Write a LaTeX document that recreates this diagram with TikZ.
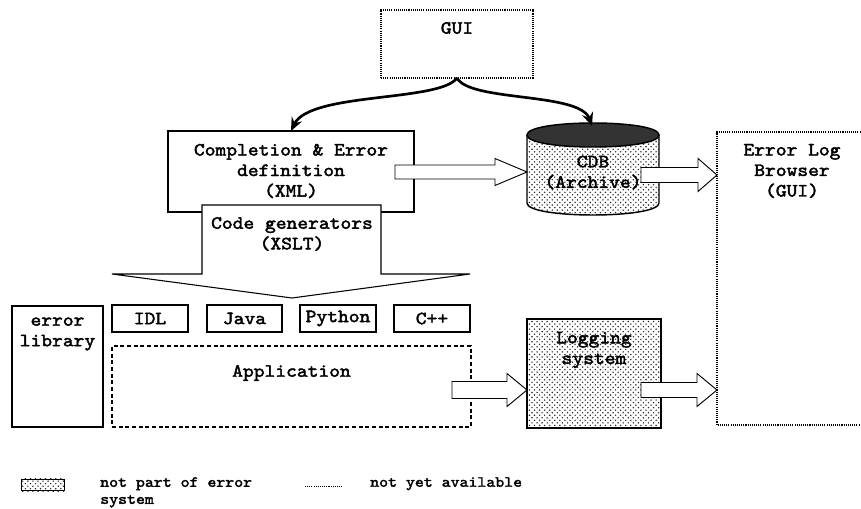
\documentclass[tikz,border=0pt]{standalone}
\usepackage{fontspec}
\newfontfamily\courfont{lmmono10-regular}[Extension=.otf, FakeStretch=1.1, FakeBold=2.2]
\usetikzlibrary{patterns,calc,arrows.meta}
\pgfdeclarepatternformonly{sparsedots}{\pgfqpoint{-1pt}{-1pt}}{\pgfqpoint{4.8pt}{4.8pt}}{\pgfqpoint{3.8pt}{3.8pt}}{%
  \pgfpathcircle{\pgfqpoint{0pt}{0pt}}{0.6pt}%
  \pgfpathcircle{\pgfqpoint{1.9pt}{1.9pt}}{0.6pt}%
  \pgfusepath{fill}}
\newcommand\blockarrow[5]{%
  \draw[blockarr] ($(#1)+(0,-#3)$) -- ($(#2)+(-#5,-#3)$) -- ($(#2)+(-#5,-#4)$) -- (#2)
   -- ($(#2)+(-#5,#4)$) -- ($(#2)+(-#5,#3)$) -- ($(#1)+(0,#3)$) -- cycle;}
\begin{document}
\begin{tikzpicture}[x=0.75pt,y=-0.75pt,
  txt/.style={font=\courfont\fontsize{14}{15.4}\selectfont, align=center, inner sep=0},
  legtxt/.style={font=\courfont\fontsize{11.6}{12.8}\selectfont, align=left, inner sep=0},
  box/.style={draw, line width=1.1pt, fill=white, inner sep=0, outer sep=0},
  ghost/.style={inner sep=0, outer sep=0},
  dotline/.style={line width=0.8pt, dash pattern=on 0.8pt off 0.8pt},
  dashline/.style={line width=0.8pt, dash pattern=on 3pt off 2pt},
  dotfill/.style={pattern=sparsedots, pattern color=black!85},
  blockarr/.style={draw, line width=0.7pt, fill=white, line join=miter},
  curvearr/.style={line width=2pt, -{Stealth[length=10pt,width=8.5pt,inset=3.5pt]}}
]
\useasboundingbox (0,0) rectangle (861,509);

% GUI
\node[ghost, draw, dotline, minimum width={152*0.75pt}, minimum height={68*0.75pt}] (gui) at (457,44) {};
\node[txt] (guit) at (457,28) {GUI};

% Completion & Error definition
\node[box, line width=1.6pt, minimum width={246*0.75pt}, minimum height={81*0.75pt}] (comp) at (291,171.5) {};
\node[txt] (compt) at (291,171) {Completion \& Error\\definition\\(XML)};

% Code generators (downward block arrow)
\draw[line width=0.8pt, fill=white, line join=miter] (202,205) -- (381,205) -- (381,274) -- (470,274)
  -- (292,298) coordinate (cgtip) -- (112,274) -- (202,274) -- cycle;
\node[txt] (cgt) at (292,234) {Code generators\\(XSLT)};

% CDB cylinder
\node[ghost, minimum width={132*0.75pt}, minimum height={92*0.75pt}] (cdb) at (593,172) {};
\draw[line width=1.1pt, fill=white] (527,135) -- (527,203) .. controls (527,219) and (659,219) .. (659,203) -- (659,135) -- cycle;
\fill[dotfill] (527,135) -- (527,203) .. controls (527,219) and (659,219) .. (659,203) -- (659,135) -- cycle;
\draw[line width=1.1pt, fill=black!80] (527,135) .. controls (527,119) and (659,119) .. (659,135)
   .. controls (659,151) and (527,151) .. (527,135) -- cycle;
\node[txt] (cdbt) at (593,172.5) {CDB\\(Archive)};

% Error Log Browser
\node[ghost, minimum width={150*0.75pt}, minimum height={293*0.75pt}] (elb) at (792,278.5) {};
\draw[dotline] (elb.north east) -| (elb.south west) -- (elb.south east);
\node[txt] (elbt) at (792,171) {Error Log\\Browser\\(GUI)};

% error library
\node[box, minimum width={91*0.75pt}, minimum height={121*0.75pt}] (lib) at (57.5,366.5) {};
\node[txt] (libt) at (57.5,334) {error\\library};

% language boxes
\node[box, minimum width={76*0.75pt}, minimum height={27*0.75pt}] (idl) at (150,318.5) {};
\node[txt] at (idl) {IDL};
\node[box, minimum width={75*0.75pt}, minimum height={27*0.75pt}] (java) at (244.5,318.5) {};
\node[txt] at (java) {Java};
\node[box, minimum width={76*0.75pt}, minimum height={27*0.75pt}] (py) at (338,318.5) {};
\node[txt] at (py) {Python};
\node[box, minimum width={76*0.75pt}, minimum height={27*0.75pt}] (cpp) at (432,318.5) {};
\node[txt] at (cpp) {C++};

% Application
\node[ghost, draw, dashline, minimum width={359*0.75pt}, minimum height={81*0.75pt}] (app) at (291.5,386.5) {};
\node[txt] (appt) at (291.5,373) {Application};

% Logging system
\node[box, minimum width={134*0.75pt}, minimum height={109*0.75pt}] (log) at (594,373.5) {};
\fill[dotfill] (log.south west) rectangle (log.north east);
\draw[line width=1.1pt] (log.south west) rectangle (log.north east);
\node[txt] (logt) at (594,350) {Logging\\system};

% curved arrows from GUI
\draw[curvearr] (gui.south) .. controls (440,102) and (310,92) .. (comp.north);
\draw[curvearr] (gui.south) .. controls (470,102) and (580,92) .. ($(cdb.north)+(-1,0)$);

% block arrows
\coordinate (a1s) at ($(comp.east)+(-19,0.5)$);
\coordinate (a1t) at (cdb.west |- a1s);
\blockarrow{a1s}{a1t}{7}{13.5}{32}
\coordinate (a2s) at ($(cdb.east)+(-18,3)$);
\coordinate (a2t) at (elb.west |- a2s);
\blockarrow{a2s}{a2t}{7.5}{16.5}{19}
\coordinate (a3s) at ($(app.east)+(-19,3.5)$);
\coordinate (a3t) at (log.west |- a3s);
\blockarrow{a3s}{a3t}{8.5}{16.5}{20}
\coordinate (a4s) at ($(log.east)+(-20,16.5)$);
\coordinate (a4t) at (elb.west |- a4s);
\blockarrow{a4s}{a4t}{7.5}{16.5}{20}

% legend
\node[draw, line width=0.8pt, fill=white, inner sep=0, minimum width={43*0.75pt}, minimum height={11*0.75pt}] (legpat) at (43,485) {};
\fill[dotfill] (legpat.south west) rectangle (legpat.north east);
\node[legtxt, anchor=north west] (legt1) at (100,477) {not part of error\\system};
\coordinate (d1) at (305,486);
\coordinate (d2) at (343,486);
\draw[dotline, line width=0.6pt] (d1) -- (d2);
\node[legtxt, anchor=north west] (legt2) at (370,477) {not yet available};
\end{tikzpicture}
\end{document}
